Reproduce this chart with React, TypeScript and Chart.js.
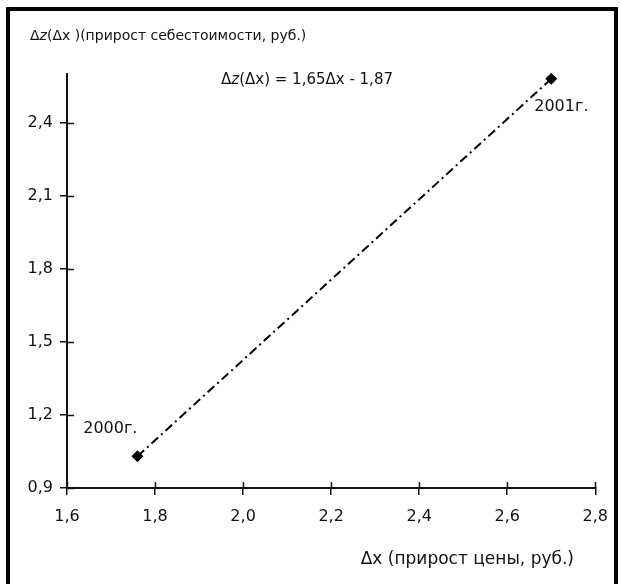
import React, { useEffect, useRef } from 'react';
import { Chart, registerables } from 'chart.js';

Chart.register(...registerables);

// ---- data ----
const years = ['2000г.', '2001г.'];
const priceGrowth = [1.76, 2.7];
const costGrowth = [1.03, 2.58];
const xTickValues = [1.6, 1.8, 2.0, 2.2, 2.4, 2.6, 2.8];
const yTickValues = [0.9, 1.2, 1.5, 1.8, 2.1, 2.4];
const xMin = 1.6;
const xMax = 2.8;
const yMin = 0.9;
const yMax = 2.6;
const yAxisTitleParts = [
  { t: 'Δ', italic: false },
  { t: 'z', italic: true },
  { t: '(Δx )(прирост себестоимости, руб.)', italic: false },
];
const equationParts = [
  { t: 'Δ', italic: false },
  { t: 'z', italic: true },
  { t: '(Δx) = 1,65Δx - 1,87', italic: false },
];
const xAxisTitle = 'Δx (прирост цены, руб.)';

const FONT = '"DejaVu Sans", "Liberation Sans", sans-serif';
const INK = '#111';

function fmt(v: number) {
  return v.toFixed(1).replace('.', ',');
}

function drawParts(ctx: CanvasRenderingContext2D, parts: { t: string; italic: boolean }[], x: number, y: number, size: number) {
  let cx = x;
  ctx.textBaseline = 'middle';
  ctx.textAlign = 'left';
  for (const p of parts) {
    ctx.font = `${p.italic ? 'italic ' : ''}${size}px ${FONT}`;
    ctx.fillText(p.t, cx, y);
    cx += ctx.measureText(p.t).width;
  }
}

const annotatePlugin = {
  id: 'annotate',
  beforeDraw(chart: any) {
    const ctx: CanvasRenderingContext2D = chart.ctx;
    ctx.save();
    ctx.fillStyle = '#fff';
    ctx.fillRect(0, 0, chart.width, chart.height);
    ctx.fillStyle = '#000';
    // frame
    ctx.fillRect(6, 7, 4, chart.height - 7);
    ctx.fillRect(6, 7, 612, 4);
    ctx.fillRect(614, 7, 4, chart.height - 7);
    ctx.restore();
  },
  afterDraw(chart: any) {
    const ctx: CanvasRenderingContext2D = chart.ctx;
    const xs = chart.scales.x;
    const ys = chart.scales.y;
    ctx.save();
    // inner halves of crossing tick marks
    ctx.strokeStyle = INK;
    ctx.lineWidth = 1.5;
    ctx.beginPath();
    xTickValues.forEach((v) => {
      const px = Math.round(xs.getPixelForValue(v)) + 0.5;
      ctx.moveTo(px, ys.bottom);
      ctx.lineTo(px, ys.bottom - 6);
    });
    yTickValues.forEach((v) => {
      const py = Math.round(ys.getPixelForValue(v)) + 0.5;
      ctx.moveTo(xs.left, py);
      ctx.lineTo(xs.left + 7, py);
    });
    ctx.stroke();

    ctx.fillStyle = INK;
    // point labels
    ctx.font = `16px ${FONT}`;
    ctx.textBaseline = 'middle';
    const p0x = xs.getPixelForValue(priceGrowth[0]);
    const p0y = ys.getPixelForValue(costGrowth[0]);
    ctx.textAlign = 'right';
    ctx.fillText(years[0], p0x, p0y - 27);
    const p1x = xs.getPixelForValue(priceGrowth[1]);
    const p1y = ys.getPixelForValue(costGrowth[1]);
    ctx.textAlign = 'left';
    ctx.fillText(years[1], p1x - 17, p1y + 28);

    // y axis title (horizontal, top-left)
    drawParts(ctx, yAxisTitleParts, 30, 36, 14);
    // equation
    drawParts(ctx, equationParts, 221, 80, 15);
    // x axis title
    ctx.font = `17px ${FONT}`;
    ctx.textAlign = 'right';
    ctx.textBaseline = 'middle';
    ctx.fillText(xAxisTitle, 574, 560);
    ctx.restore();
  },
};

export default function App() {
  const ref = useRef<HTMLCanvasElement | null>(null);
  useEffect(() => {
    if (!ref.current) return;
    const chart = new Chart(ref.current, {
      type: 'scatter',
      data: {
        datasets: [
          {
            label: 'trend',
            data: priceGrowth.map((x, i) => ({ x, y: costGrowth[i] })),
            showLine: true,
            borderColor: '#000',
            borderWidth: 2,
            borderDash: [9, 4, 2, 4],
            pointStyle: 'rectRot',
            pointRadius: 6,
            pointBackgroundColor: '#000',
            pointBorderColor: '#000',
            pointBorderWidth: 0,
            clip: false as any,
          },
        ],
      },
      options: {
        responsive: false,
        animation: false,
        devicePixelRatio: 1,
        layout: { padding: { left: 0, top: 74, right: 22, bottom: 0 } },
        plugins: {
          legend: { display: false },
          tooltip: { enabled: false },
          title: { display: false },
        },
        scales: {
          x: {
            type: 'linear',
            min: xMin,
            max: xMax,
            afterBuildTicks: (scale: any) => {
              scale.ticks = xTickValues.map((v) => ({ value: v }));
            },
            afterFit: (scale: any) => {
              scale.height = 96;
            },
            border: { display: true, color: INK, width: 2 },
            grid: {
              display: true,
              drawOnChartArea: false,
              drawTicks: true,
              tickLength: 7,
              color: INK,
              lineWidth: 1.5,
            },
            ticks: {
              padding: 12,
              color: INK,
              font: { family: FONT, size: 16 },
              maxRotation: 0,
              autoSkip: false,
              callback: (v: any) => fmt(Number(v)),
            },
          },
          y: {
            type: 'linear',
            min: yMin,
            max: yMax,
            afterBuildTicks: (scale: any) => {
              scale.ticks = yTickValues.map((v) => ({ value: v }));
            },
            afterFit: (scale: any) => {
              scale.width = 67;
            },
            border: { display: true, color: INK, width: 2 },
            grid: {
              display: true,
              drawOnChartArea: false,
              drawTicks: true,
              tickLength: 7,
              color: INK,
              lineWidth: 1.5,
            },
            ticks: {
              padding: 7,
              color: INK,
              font: { family: FONT, size: 16 },
              autoSkip: false,
              callback: (v: any) => fmt(Number(v)),
            },
          },
        },
      },
      plugins: [annotatePlugin],
    });
    return () => chart.destroy();
  }, []);
  return (
    <div style={{ position: 'fixed', left: 0, top: 0, width: 620, height: 584, background: '#fff' }}>
      <canvas ref={ref} width={620} height={584} style={{ display: 'block' }} />
    </div>
  );
}
